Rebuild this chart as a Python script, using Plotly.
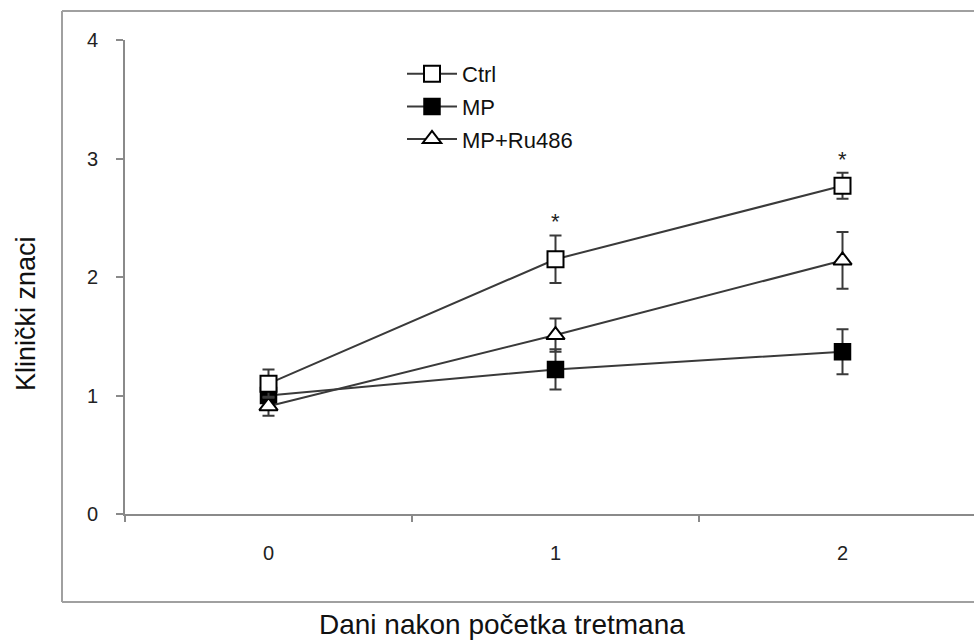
import plotly.graph_objects as go

days = [0, 1, 2]
ctrl = [1.10, 2.15, 2.77]
ctrl_err = [0.12, 0.20, 0.11]
mp = [1.00, 1.22, 1.37]
mp_err = [0.10, 0.17, 0.19]
ru = [0.91, 1.51, 2.14]
ru_err = [0.08, 0.14, 0.24]
sig_days = [1, 2]
sig_y = [2.47, 2.99]

W, H = 974, 642
L, R, T, B = 125, 0, 40, 128
PW, PH = W - L - R, H - T - B

def px(xp):
    return (xp - L) / PW

def py(yp):
    return (H - B - yp) / PH

fig = go.Figure()
line = dict(color="#3a3a3a", width=2)
err = lambda e: dict(type="data", array=e, visible=True, color="#3a3a3a", thickness=2, width=6)

fig.add_trace(go.Scatter(x=days, y=mp, name="MP", mode="lines+markers", line=line,
                         error_y=err(mp_err), legendgroup="b", legendrank=2,
                         marker=dict(symbol="square", size=16, color="#000000",
                                     line=dict(color="#000000", width=1.5))))
fig.add_trace(go.Scatter(x=days, y=ru, name="MP+Ru486", mode="lines+markers", line=line,
                         error_y=err(ru_err), legendgroup="c", legendrank=3,
                         marker=dict(symbol="triangle-up", size=16, color="#ffffff",
                                     line=dict(color="#000000", width=2))))
fig.add_trace(go.Scatter(x=days, y=ctrl, name="Ctrl", mode="lines+markers", line=line,
                         error_y=err(ctrl_err), legendgroup="a", legendrank=1,
                         marker=dict(symbol="square", size=16, color="#ffffff",
                                     line=dict(color="#000000", width=2))))

for d, yv in zip(sig_days, sig_y):
    fig.add_annotation(x=d, y=yv, text="*", showarrow=False,
                       font=dict(size=22, color="#222", family="Liberation Sans"))

frame = dict(color="#a0a0a0", width=2)
for x0, y0, x1, y1 in [(62, 11, 62, 602), (62, 11, 974, 11), (62, 602, 974, 602)]:
    fig.add_shape(type="line", xref="paper", yref="paper",
                  x0=px(x0), x1=px(x1), y0=py(y0), y1=py(y1), line=frame, layer="below")

fig.add_annotation(xref="paper", yref="paper", x=px(26), y=py(314),
                   xanchor="center", yanchor="middle",
                   text="Klinički znaci", textangle=-90,
                   showarrow=False, font=dict(size=27, color="#111", family="Liberation Sans"))
fig.add_annotation(xref="paper", yref="paper", x=px(502), y=py(624),
                   xanchor="center", yanchor="middle",
                   text="Dani nakon početka tretmana",
                   showarrow=False, font=dict(size=28, color="#111", family="Liberation Sans"))

fig.update_layout(
    width=W, height=H, margin=dict(l=L, r=R, t=T, b=B),
    paper_bgcolor="white", plot_bgcolor="white",
    font=dict(family="Liberation Sans", color="#222", size=20),
    showlegend=True,
    legend=dict(x=px(402), y=py(53), xanchor="left", yanchor="top",
                font=dict(size=22, color="#111", family="Liberation Sans"),
                tracegroupgap=1, itemwidth=50, bgcolor="rgba(0,0,0,0)"),
    xaxis=dict(range=[-0.5, (W - L) / 287 - 0.5], tickvals=[0, 1, 2], ticks="",
               showline=True, linecolor="#8a8a8a", linewidth=2, showgrid=False,
               zeroline=False, ticklabelstandoff=20,
               tickfont=dict(size=20, color="#222", family="Liberation Sans"),
               minor=dict(tickmode="linear", tick0=-0.5, dtick=1, ticks="outside",
                          ticklen=6, tickcolor="#8a8a8a", tickwidth=2, showgrid=False)),
    yaxis=dict(range=[0, 4], tickvals=[0, 1, 2, 3, 4], ticks="outside", ticklen=7,
               tickcolor="#8a8a8a", tickwidth=2, showline=True, linecolor="#8a8a8a",
               linewidth=2, showgrid=False, zeroline=False, ticklabelstandoff=14,
               tickfont=dict(size=20, color="#222", family="Liberation Sans")),
)

fig.write_html("out.html")
